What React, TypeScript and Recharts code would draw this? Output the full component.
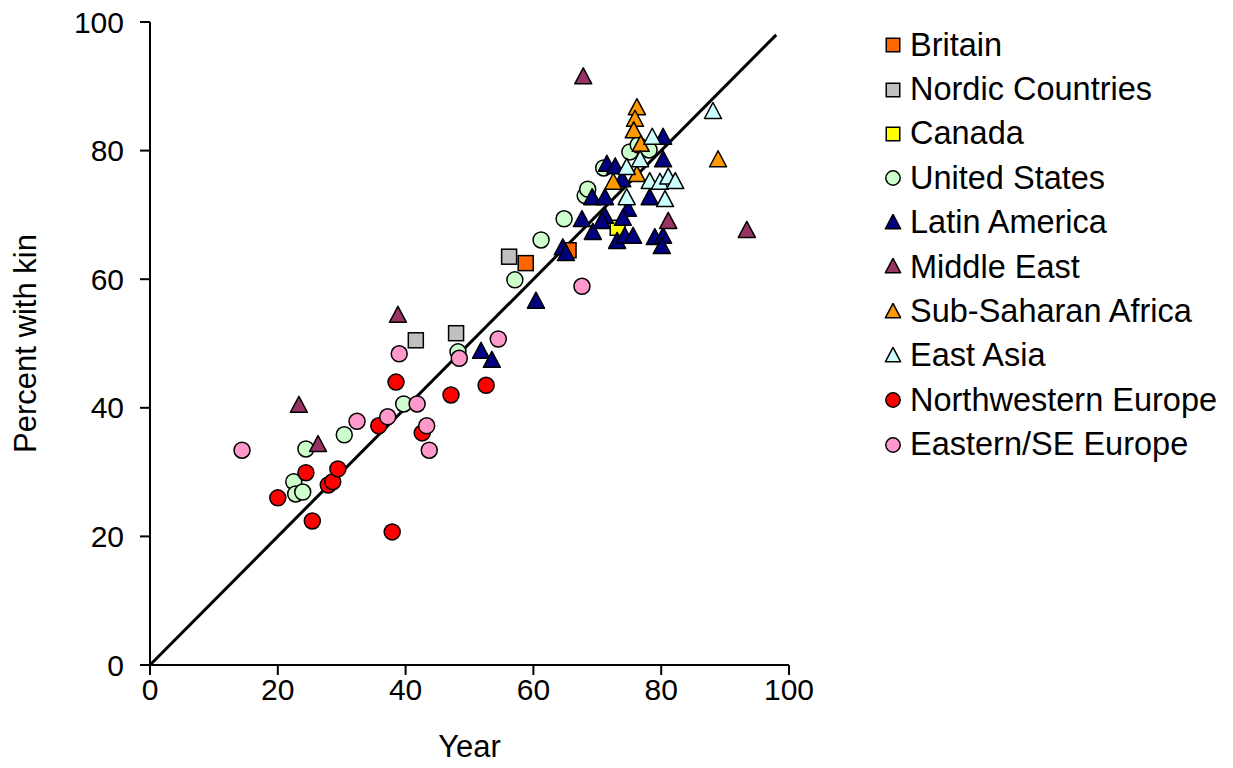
import React from "react";
import {
  ScatterChart,
  Scatter,
  XAxis,
  YAxis,
  ReferenceLine,
} from "recharts";

const FONT = "'Liberation Sans', Arial, sans-serif";

const britain = [
  { x: 58.8, y: 62.5 },
  { x: 65.5, y: 64.5 },
];
const nordic = [
  { x: 56.2, y: 63.5 },
  { x: 41.6, y: 50.5 },
  { x: 47.9, y: 51.6 },
];
const canada = [{ x: 73.2, y: 68.0 }];
const unitedStates = [
  { x: 22.5, y: 28.5 },
  { x: 22.8, y: 26.6 },
  { x: 23.9, y: 26.9 },
  { x: 24.4, y: 33.6 },
  { x: 30.4, y: 35.8 },
  { x: 39.7, y: 40.6 },
  { x: 48.2, y: 48.7 },
  { x: 57.1, y: 59.9 },
  { x: 61.2, y: 66.1 },
  { x: 64.8, y: 69.4 },
  { x: 68.1, y: 73.0 },
  { x: 68.5, y: 74.0 },
  { x: 71.0, y: 77.3 },
  { x: 75.1, y: 79.8 },
  { x: 76.4, y: 80.9 },
  { x: 78.1, y: 80.1 },
];
const latinAmerica = [
  { x: 51.8, y: 48.7 },
  { x: 53.5, y: 47.3 },
  { x: 60.4, y: 56.5 },
  { x: 64.6, y: 64.8 },
  { x: 65.1, y: 63.9 },
  { x: 67.6, y: 69.2 },
  { x: 69.3, y: 67.2 },
  { x: 73.1, y: 65.8 },
  { x: 74.3, y: 66.6 },
  { x: 75.6, y: 66.6 },
  { x: 74.8, y: 70.8 },
  { x: 74.0, y: 69.4 },
  { x: 71.2, y: 69.7 },
  { x: 70.7, y: 68.9 },
  { x: 69.2, y: 72.6 },
  { x: 71.2, y: 72.6 },
  { x: 71.5, y: 77.8 },
  { x: 72.8, y: 77.4 },
  { x: 73.9, y: 75.4 },
  { x: 78.2, y: 72.6 },
  { x: 80.3, y: 78.5 },
  { x: 79.0, y: 66.4 },
  { x: 80.3, y: 66.6 },
  { x: 80.1, y: 65.0 },
  { x: 80.3, y: 82.0 },
];
const middleEast = [
  { x: 67.8, y: 91.4 },
  { x: 23.3, y: 40.3 },
  { x: 26.3, y: 34.2 },
  { x: 38.8, y: 54.3 },
  { x: 81.1, y: 68.9 },
  { x: 93.4, y: 67.5 },
];
const subSaharan = [
  { x: 76.2, y: 86.6 },
  { x: 75.9, y: 84.8 },
  { x: 75.7, y: 83.0 },
  { x: 76.8, y: 80.9 },
  { x: 88.9, y: 78.5 },
  { x: 72.5, y: 75.0 },
  { x: 76.2, y: 76.2 },
];
const eastAsia = [
  { x: 88.1, y: 86.0 },
  { x: 78.6, y: 82.0 },
  { x: 76.7, y: 78.5 },
  { x: 74.6, y: 77.3 },
  { x: 78.2, y: 75.1 },
  { x: 79.8, y: 75.0 },
  { x: 81.1, y: 75.8 },
  { x: 82.2, y: 75.1 },
  { x: 80.6, y: 72.3 },
  { x: 74.6, y: 72.6 },
];
const nwEurope = [
  { x: 20.0, y: 26.0 },
  { x: 24.4, y: 29.9 },
  { x: 25.4, y: 22.4 },
  { x: 27.9, y: 28.0 },
  { x: 28.6, y: 28.5 },
  { x: 29.4, y: 30.5 },
  { x: 37.9, y: 20.7 },
  { x: 35.8, y: 37.2 },
  { x: 38.5, y: 44.0 },
  { x: 42.6, y: 36.1 },
  { x: 47.1, y: 42.0 },
  { x: 52.6, y: 43.5 },
];
const eseEurope = [
  { x: 14.4, y: 33.4 },
  { x: 32.4, y: 37.9 },
  { x: 37.2, y: 38.6 },
  { x: 39.0, y: 48.4 },
  { x: 41.8, y: 40.6 },
  { x: 43.3, y: 37.2 },
  { x: 43.7, y: 33.4 },
  { x: 48.4, y: 47.7 },
  { x: 54.5, y: 50.7 },
  { x: 67.6, y: 58.9 },
];

const AXIS_TICKS = [0, 20, 40, 60, 80, 100];
const diagonal = [
  { x: 0, y: 0 },
  { x: 98, y: 98 },
];

type Kind = "square" | "circle" | "triangle";

const SERIES: { name: string; color: string; kind: Kind; data: { x: number; y: number }[] }[] = [
  { name: "Britain", color: "#FF6600", kind: "square", data: britain },
  { name: "Nordic Countries", color: "#C0C0C0", kind: "square", data: nordic },
  { name: "Canada", color: "#FFFF00", kind: "square", data: canada },
  { name: "United States", color: "#CCFFCC", kind: "circle", data: unitedStates },
  { name: "Latin America", color: "#000080", kind: "triangle", data: latinAmerica },
  { name: "Middle East", color: "#993366", kind: "triangle", data: middleEast },
  { name: "Sub-Saharan Africa", color: "#FF9900", kind: "triangle", data: subSaharan },
  { name: "East Asia", color: "#CCFFFF", kind: "triangle", data: eastAsia },
  { name: "Northwestern Europe", color: "#FF0000", kind: "circle", data: nwEurope },
  { name: "Eastern/SE Europe", color: "#FF99CC", kind: "circle", data: eseEurope },
];

function Marker({ cx, cy, kind, color, s = 1 }: { cx: number; cy: number; kind: Kind; color: string; s?: number }) {
  if (cx == null || cy == null) return null;
  if (kind === "square") {
    const h = 7.5 * s;
    return (
      <rect x={cx - h} y={cy - h} width={2 * h} height={2 * h} fill={color} stroke="#000" strokeWidth={1.5} />
    );
  }
  if (kind === "circle") {
    return <circle cx={cx} cy={cy} r={8 * s} fill={color} stroke="#000" strokeWidth={1.5} />;
  }
  return (
    <polygon
      points={`${cx},${cy - 9.5 * s} ${cx - 8.5 * s},${cy + 6.5 * s} ${cx + 8.5 * s},${cy + 6.5 * s}`}
      fill={color}
      stroke="#000"
      strokeWidth={1.5}
      strokeLinejoin="round"
    />
  );
}

// legend sits to the right of the plot, outside the chart's layout
function LegendBox() {
  return (
    <div
      style={{
        position: "absolute",
        left: 884,
        top: 23,
        fontFamily: FONT,
        fontSize: 32.5,
        color: "#000",
      }}
    >
      {SERIES.map((s) => (
        <div key={s.name} style={{ height: 44.4, display: "flex", alignItems: "center", whiteSpace: "nowrap" }}>
          <svg width={18} height={18} style={{ flex: "none" }}>
            <Marker cx={9} cy={9} kind={s.kind} color={s.color} s={0.9} />
          </svg>
          <span style={{ marginLeft: 8 }}>{s.name}</span>
        </div>
      ))}
    </div>
  );
}

export default function App() {
  const tickStyle = { fontFamily: FONT, fontSize: 30, fill: "#000" };
  return (
    <div style={{ position: "absolute", left: 0, top: 0, width: 1233, height: 768, background: "#fff" }}>
      <ScatterChart width={1233} height={768} margin={{ top: 22, right: 444, bottom: 43, left: 25 }}>
        <XAxis
          type="number"
          dataKey="x"
          domain={[0, 100]}
          ticks={AXIS_TICKS}
          height={60}
          tickSize={10}
          tickMargin={4}
          axisLine={{ stroke: "#000", strokeWidth: 2 }}
          tickLine={{ stroke: "#000", strokeWidth: 2 }}
          tick={tickStyle}
          label={(props: any) => {
            const vb = props.viewBox;
            return (
              <text
                x={vb.x + vb.width / 2}
                y={vb.y + 81}
                textAnchor="middle"
                dominantBaseline="central"
                style={{ fontFamily: FONT, fontSize: 31, fill: "#000" }}
              >
                Year
              </text>
            );
          }}
        />
        <YAxis
          type="number"
          dataKey="y"
          domain={[0, 100]}
          ticks={AXIS_TICKS}
          width={125}
          tickSize={10}
          tickMargin={16}
          axisLine={{ stroke: "#000", strokeWidth: 2 }}
          tickLine={{ stroke: "#000", strokeWidth: 2 }}
          tick={tickStyle}
          label={(props: any) => {
            const vb = props.viewBox;
            const cy = vb.y + vb.height / 2;
            return (
              <text
                x={25}
                y={cy}
                textAnchor="middle"
                dominantBaseline="central"
                transform={`rotate(-90, 25, ${cy})`}
                style={{ fontFamily: FONT, fontSize: 31, fill: "#000" }}
              >
                Percent with kin
              </text>
            );
          }}
        />
        {SERIES.map((s) => (
          <Scatter
            key={s.name}
            name={s.name}
            data={s.data}
            fill={s.color}
            isAnimationActive={false}
            shape={(p: any) => <Marker cx={p.cx} cy={p.cy} kind={s.kind} color={s.color} />}
          />
        ))}
        <ReferenceLine segment={diagonal} stroke="#000" strokeWidth={3} ifOverflow="visible" />
      </ScatterChart>
      <LegendBox />
    </div>
  );
}
